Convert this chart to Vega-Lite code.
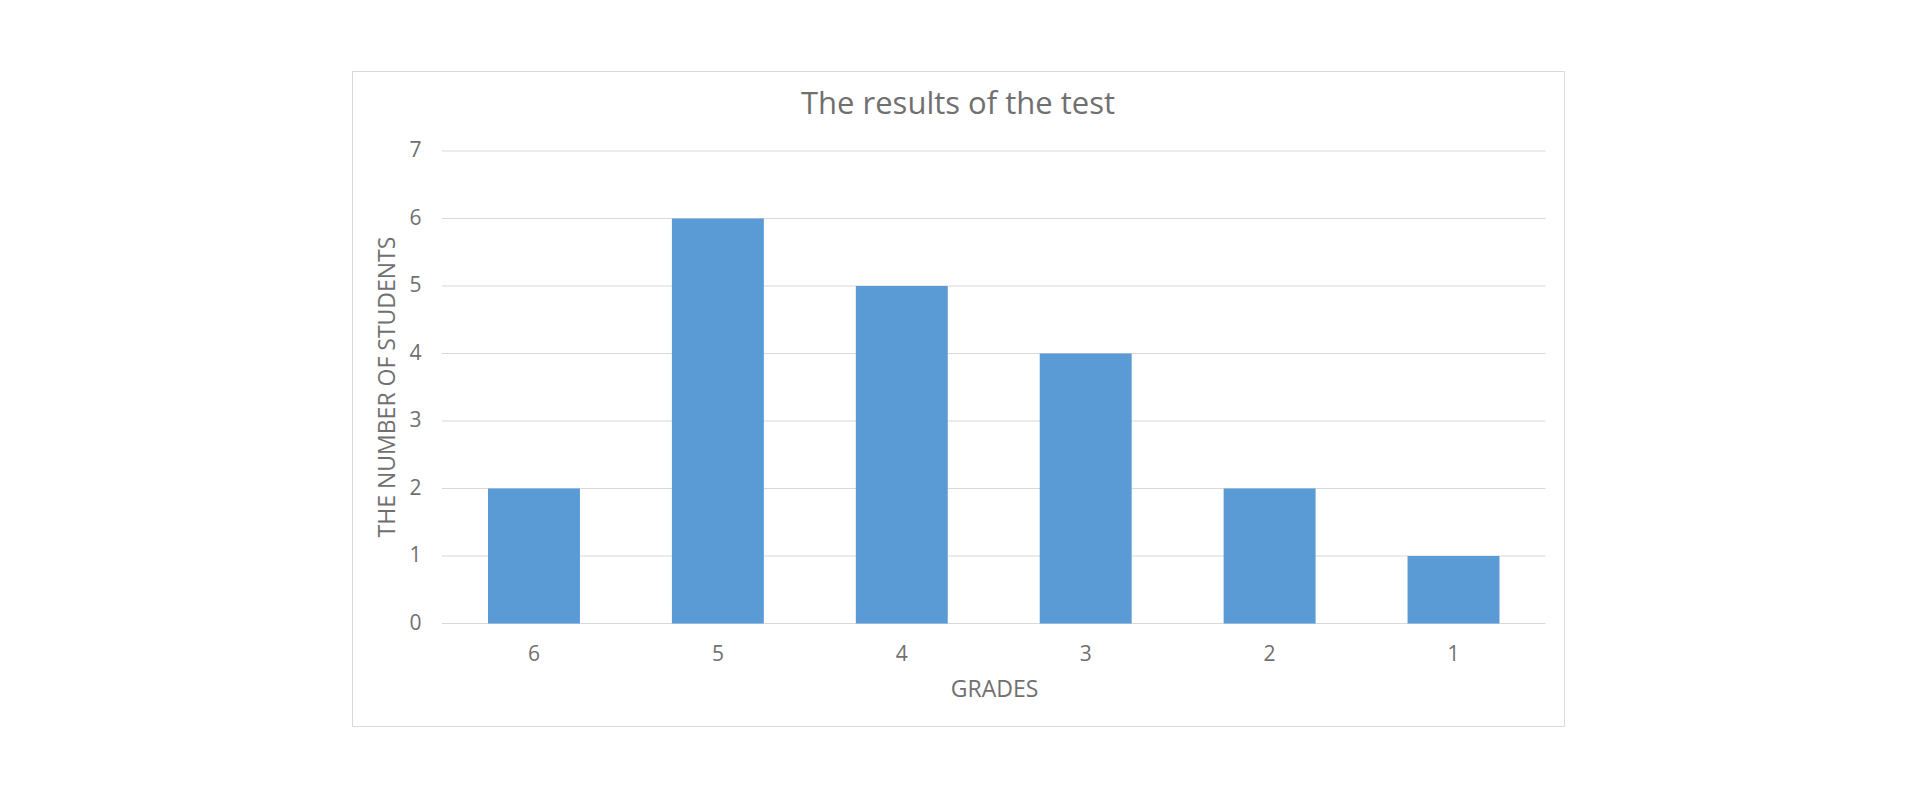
{
  "$schema": "https://vega.github.io/schema/vega-lite/v6.json",
  "width": 1212,
  "height": 655,
  "autosize": {"type": "none"},
  "padding": {"left": 352, "top": 71, "right": 356, "bottom": 74},
  "background": "white",
  "title": {
    "text": "The results of the test",
    "font": "Open Sans",
    "fontSize": 31,
    "fontWeight": "normal",
    "color": "#707070",
    "anchor": "middle",
    "offset": 0,
    "dy": 50
  },
  "config": {
    "view": {"stroke": "#D9D9D9", "strokeWidth": 1},
    "font": "Open Sans"
  },
  "layer": [
    {
      "data": {"values": [{"v": 0}, {"v": 1}, {"v": 2}, {"v": 3}, {"v": 4}, {"v": 5}, {"v": 6}, {"v": 7}]},
      "mark": {"type": "rule", "color": "#D9D9D9", "strokeWidth": 1},
      "encoding": {
        "x": {"datum": 0, "type": "quantitative", "scale": {"domain": [-0.08156, 1.01677], "nice": false, "zero": false}, "axis": null},
        "x2": {"datum": 1},
        "y": {
          "field": "v",
          "type": "quantitative",
          "scale": {"domain": [-1.5185, 8.185], "nice": false, "zero": false},
          "axis": {
            "values": [0, 1, 2, 3, 4, 5, 6, 7],
            "grid": false, "domain": false, "ticks": false,
            "offset": -90, "labelPadding": 21,
            "labelFontSize": 21, "labelColor": "#707070", "labelFont": "Open Sans",
            "title": "THE NUMBER OF STUDENTS", "titleFontSize": 23, "titleFontWeight": "normal",
            "titleColor": "#707070", "titleFont": "Open Sans", "titlePadding": 9, "titleY": 315.5
          }
        }
      }
    },
    {
      "data": {"values": [
        {"grade": "6", "students": 2},
        {"grade": "5", "students": 6},
        {"grade": "4", "students": 5},
        {"grade": "3", "students": 4},
        {"grade": "2", "students": 2},
        {"grade": "1", "students": 1}
      ]},
      "mark": {"type": "bar", "color": "#5B9BD5"},
      "encoding": {
        "x": {
          "field": "grade",
          "type": "nominal",
          "sort": ["6", "5", "4", "3", "2", "1"],
          "scale": {"paddingInner": 0.5, "paddingOuter": 0.5451, "align": 0.6783},
          "axis": {
            "domain": false, "ticks": false, "grid": false,
            "offset": -102.5, "labelPadding": 20, "labelAngle": 0,
            "labelFontSize": 21, "labelColor": "#707070", "labelFont": "Open Sans",
            "title": "GRADES", "titleFontSize": 23, "titleFontWeight": "normal",
            "titleColor": "#707070", "titleFont": "Open Sans", "titlePadding": 14, "titleX": 642
          }
        },
        "y": {
          "field": "students",
          "type": "quantitative",
          "scale": {"domain": [-1.5185, 8.185], "nice": false, "zero": false},
          "axis": {
            "values": [0, 1, 2, 3, 4, 5, 6, 7],
            "grid": false, "domain": false, "ticks": false,
            "offset": -90, "labelPadding": 21,
            "labelFontSize": 21, "labelColor": "#707070", "labelFont": "Open Sans",
            "title": "THE NUMBER OF STUDENTS", "titleFontSize": 23, "titleFontWeight": "normal",
            "titleColor": "#707070", "titleFont": "Open Sans", "titlePadding": 9, "titleY": 315.5
          }
        },
        "y2": {"datum": 0}
      }
    }
  ],
  "resolve": {"scale": {"x": "independent"}}
}
